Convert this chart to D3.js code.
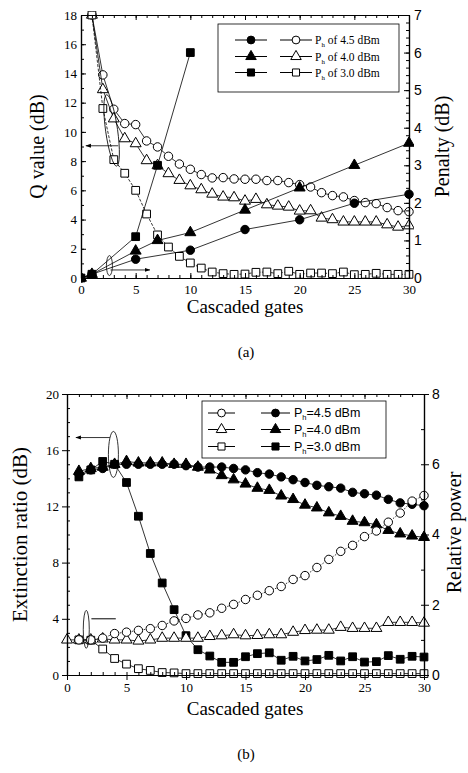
<!DOCTYPE html>
<html lang="en">
<head>
<meta charset="UTF-8">
<title>Q value, penalty and extinction ratio vs cascaded gates</title>
<script src="https://d3js.org/d3.v7.min.js"></script>
<style>
  body { margin: 0; background: #fff; }
  svg { display: block; }
  .tick text { font-family: 'Liberation Serif', serif; font-size: 13px; fill: #000; }
  .sans .tick text { font-family: 'Liberation Sans', Arial, sans-serif; font-size: 14px; }
  .title { font-family: 'Liberation Serif', serif; fill: #000; }
</style>
</head>
<body>
<div id="chart"></div>
<script>
// ---------- panel (a) data ----------
const qGates = [1,2,3,4,5,6,7,8,9,10,11,12,13,14,15,16,17,18,19,20,21,22,23,24,25,26,27,28,29,30];
const q45 = [18, 13.9, 11.55, 10.57, 10.5, 9.38, 8.97, 8.33, 7.8, 7.44, 7.08, 6.85, 6.87, 6.78, 6.76,
             6.76, 6.67, 6.67, 6.53, 6.39, 6.23, 5.84, 5.64, 5.55, 5.3, 5.16, 5.09, 4.82, 4.61, 4.54];
const q40 = [18, 12.9, 10.9, 9.54, 9.2, 8.04, 7.7, 7.15, 6.69, 6.32, 6.05, 5.75, 5.55, 5.5, 5.27,
             5.39, 5.02, 4.93, 4.86, 4.59, 4.61, 4.11, 4.0, 3.84, 3.84, 3.84, 3.84, 3.65, 3.49, 3.58];
const q30 = [18, 11.6, 8.1, 7.17, 6.0, 4.38, 2.95, 2.12, 1.48, 1.03, 0.68, 0.41, 0.3, 0.25, 0.27,
             0.39, 0.41, 0.3, 0.46, 0.25, 0.34, 0.34, 0.3, 0.41, 0.23, 0.25, 0.32, 0.25, 0.25, 0.25];

const pen45Gates = [0, 1, 5, 10, 15, 20, 25, 30];
const pen45 = [0, 0.1, 0.5, 0.74, 1.29, 1.55, 1.99, 2.23];
const pen40Gates = [0, 1, 5, 7, 10, 15, 20, 25, 30];
const pen40 = [0, 0.1, 0.72, 1.0, 1.21, 1.81, 2.4, 3.0, 3.59];
const pen30Gates = [0, 1, 5, 7, 10];
const pen30 = [0, 0.1, 1.1, 3.0, 6.0];

// ---------- panel (b) data ----------
const erGates = [1,2,3,4,5,6,7,8,9,10,11,12,13,14,15,16,17,18,19,20,21,22,23,24,25,26,27,28,29,30];
const er45 = [14.3, 14.6, 14.7, 15.0, 15.0, 15.0, 15.0, 15.0, 15.0, 14.9, 14.8, 14.8, 14.8, 14.7, 14.6,
              14.4, 14.3, 14.1, 13.9, 13.7, 13.5, 13.4, 13.3, 13.0, 12.9, 12.8, 12.5, 12.25, 12.15, 12.05];
const er40 = [14.5, 14.7, 14.8, 15.0, 15.2, 15.1, 15.1, 15.1, 15.0, 15.0, 14.8, 14.6, 14.2, 13.9, 13.6,
              13.3, 13.15, 12.75, 12.5, 12.1, 11.9, 11.55, 11.3, 10.95, 10.85, 10.7, 10.3, 10.05, 9.9, 9.8];
const er30 = [14.1, 14.6, 15.2, 15.0, 13.7, 11.3, 8.65, 6.55, 4.65, 2.8, 1.8, 1.35, 0.9, 0.9, 1.3,
              1.52, 1.58, 1.05, 1.33, 1.0, 1.1, 1.4, 1.0, 1.3, 0.92, 0.95, 1.38, 1.12, 1.33, 1.28];

const rp45Gates = erGates;
const rp45 = [1.0, 1.0, 1.05, 1.18, 1.22, 1.27, 1.32, 1.41, 1.54, 1.61, 1.71, 1.77, 1.9, 2.01, 2.15,
              2.27, 2.4, 2.52, 2.72, 2.83, 3.06, 3.29, 3.52, 3.69, 3.94, 4.1, 4.35, 4.61, 4.95, 5.11];
const rp40Gates = [0,1,2,3,4,5,6,7,8,9,10,11,12,13,14,15,16,17,18,19,20,21,22,23,24,25,26,27,28,29,30];
const rp40 = [1.0, 1.0, 1.0, 1.03, 1.0, 1.0, 0.97, 1.0, 1.05, 1.05, 1.05, 1.05, 1.1, 1.12, 1.15, 1.12,
              1.13, 1.15, 1.15, 1.22, 1.27, 1.28, 1.28, 1.36, 1.33, 1.33, 1.33, 1.5, 1.5, 1.5, 1.48];
const rp30Gates = erGates;
const rp30 = [1.0, 0.99, 0.74, 0.47, 0.31, 0.18, 0.13, 0.07, 0.06, 0.04, 0.04, 0.04, 0.04, 0.04, 0.04,
              0.04, 0.04, 0.04, 0.04, 0.04, 0.04, 0.04, 0.04, 0.04, 0.04, 0.04, 0.04, 0.04, 0.04, 0.04];

const W = 468, H = 773;
const svg = d3.select("#chart").append("svg").attr("width", W).attr("height", H);

const zip = (xs, ys) => xs.map((x, i) => [x, ys[i]]);

function drawAxes(g, x, yL, yR, box, opt) {
  const ax = (axis, transform, cls) => {
    const a = g.append("g").attr("transform", transform).call(axis);
    if (cls) a.attr("class", cls);
    a.select(".domain").attr("stroke", "#000").attr("stroke-width", 1.2);
    a.selectAll(".tick line").attr("stroke", "#000");
    return a;
  };
  const majIn = opt.majorOut ? 5 : -5;
  const fmt = d3.format("d");
  // bottom
  ax(d3.axisBottom(x).tickValues(opt.xMinor).tickSize(-3).tickSizeOuter(0).tickFormat(""), `translate(0,${box.b})`);
  ax(d3.axisBottom(x).tickValues(opt.xMajor).tickSize(majIn).tickSizeOuter(0).tickFormat(fmt).tickPadding(opt.majorOut ? 3 : 7), `translate(0,${box.b})`);
  // top
  ax(d3.axisTop(x).tickValues(opt.xMinor).tickSize(-3).tickSizeOuter(0).tickFormat(""), `translate(0,${box.t})`);
  ax(d3.axisTop(x).tickValues(opt.xMajor).tickSize(-5).tickSizeOuter(0).tickFormat(""), `translate(0,${box.t})`);
  // left
  ax(d3.axisLeft(yL).tickValues(opt.lMinor).tickSize(-3).tickSizeOuter(0).tickFormat(""), `translate(${box.l},0)`);
  ax(d3.axisLeft(yL).tickValues(opt.lMajor).tickSize(majIn).tickSizeOuter(0).tickFormat(fmt).tickPadding(opt.majorOut ? 3 : 4), `translate(${box.l},0)`);
  // right
  ax(d3.axisRight(yR).tickValues(opt.rMinor).tickSize(-3).tickSizeOuter(0).tickFormat(""), `translate(${box.r},0)`);
  ax(d3.axisRight(yR).tickValues(opt.rMajor).tickSize(majIn).tickSizeOuter(0).tickFormat(fmt).tickPadding(opt.majorOut ? 3 : 5), `translate(${box.r},0)`, "sans");
}

function drawSeries(g, pts, x, y, shape, filled, dash) {
  g.append("path")
    .datum(pts)
    .attr("fill", "none")
    .attr("stroke", "#000")
    .attr("stroke-width", 0.8)
    .attr("stroke-dasharray", dash || null)
    .attr("d", d3.line().x(d => x(d[0])).y(d => y(d[1])));
  const sym = d3.symbol().type(shape).size(shape === d3.symbolSquare ? 60 : shape === d3.symbolTriangle ? 52 : 56);
  g.selectAll(null).data(pts).enter().append("path")
    .attr("transform", d => `translate(${x(d[0])},${y(d[1])})`)
    .attr("d", sym)
    .attr("fill", filled ? "#000" : "#fff")
    .attr("stroke", "#000")
    .attr("stroke-width", 1);
}

function legendLabel(g, xPos, yPos, txt, font, size) {
  const t = g.append("text").attr("x", xPos).attr("y", yPos)
    .style("font-family", font).style("font-size", size + "px").attr("fill", "#000");
  t.append("tspan").text("P");
  t.append("tspan").text("h").style("font-size", (size * 0.6) + "px").attr("dy", 3);
  t.append("tspan").text(txt).attr("dy", -3);
}

function legendSample(g, x0, x1, yPos, shape, filled) {
  g.append("line").attr("x1", x0).attr("x2", x1).attr("y1", yPos).attr("y2", yPos)
    .attr("stroke", "#000").attr("stroke-width", 1);
  g.append("path").attr("transform", `translate(${(x0 + x1) / 2},${yPos})`)
    .attr("d", d3.symbol().type(shape).size(shape === d3.symbolSquare ? 50 : 48))
    .attr("fill", filled ? "#000" : "#fff").attr("stroke", "#000");
}

svg.append("defs").append("marker")
  .attr("id", "arrow").attr("viewBox", "0 0 10 10").attr("refX", 9).attr("refY", 5)
  .attr("markerWidth", 7).attr("markerHeight", 7).attr("orient", "auto-start-reverse")
  .append("path").attr("d", "M0,1.5 L10,5 L0,8.5 Z").attr("fill", "#000");

// ================= panel (a) =================
{
  const box = {l: 81, r: 409, t: 15, b: 278};
  const x = d3.scaleLinear().domain([0, 30]).range([box.l, box.r]);
  const yQ = d3.scaleLinear().domain([0, 18]).range([box.b, box.t]);
  const yP = d3.scaleLinear().domain([0, 7]).range([box.b, box.t]);
  const g = svg.append("g");

  svg.append("clipPath").attr("id", "clipA").append("rect")
    .attr("x", box.l).attr("y", box.t - 4).attr("width", box.r - box.l + 5).attr("height", box.b - box.t + 9);
  const plot = g.append("g").attr("clip-path", "url(#clipA)");

  drawSeries(plot, zip(qGates, q45), x, yQ, d3.symbolCircle, false);
  drawSeries(plot, zip(qGates, q40), x, yQ, d3.symbolTriangle, false);
  drawSeries(plot, zip(qGates, q30), x, yQ, d3.symbolSquare, false, "3,1.5");
  drawSeries(plot, zip(pen45Gates, pen45), x, yP, d3.symbolCircle, true);
  drawSeries(plot, zip(pen40Gates, pen40), x, yP, d3.symbolTriangle, true);
  drawSeries(plot, zip(pen30Gates, pen30), x, yP, d3.symbolSquare, true);

  drawAxes(g, x, yQ, yP, box, {
    xMajor: [0, 5, 10, 15, 20, 25, 30], xMinor: d3.range(0, 31, 1),
    lMajor: [0, 2, 4, 6, 8, 10, 12, 14, 16, 18], lMinor: d3.range(0, 19, 1),
    rMajor: [0, 1, 2, 3, 4, 5, 6, 7], rMinor: d3.range(0, 7.01, 0.2)
  });

  // annotations: ellipses and arrows
  g.append("ellipse").attr("cx", x(2.8)).attr("cy", yQ(10.1)).attr("rx", 6).attr("ry", 36)
    .attr("transform", `rotate(-8,${x(2.8)},${yQ(10.1)})`)
    .attr("fill", "none").attr("stroke", "#000").attr("stroke-width", 0.8);
  g.append("line").attr("x1", x(3.4)).attr("x2", x(0.45)).attr("y1", yQ(9.05)).attr("y2", yQ(9.05))
    .attr("stroke", "#000").attr("stroke-width", 0.8).attr("marker-end", "url(#arrow)");
  g.append("ellipse").attr("cx", x(2.6)).attr("cy", yQ(0.85)).attr("rx", 3).attr("ry", 10)
    .attr("fill", "none").attr("stroke", "#000").attr("stroke-width", 0.8);
  g.append("line").attr("x1", x(2.7)).attr("x2", x(6.3)).attr("y1", yQ(0.55)).attr("y2", yQ(0.55))
    .attr("stroke", "#000").attr("stroke-width", 0.8).attr("marker-end", "url(#arrow)");

  // legend
  const lg = g.append("g");
  lg.append("rect").attr("x", 218).attr("y", 24).attr("width", 181).attr("height", 68)
    .attr("fill", "#fff").attr("stroke", "#000").attr("stroke-width", 0.8);
  const rowsA = [[40, d3.symbolCircle, " of 4.5 dBm"], [56.5, d3.symbolTriangle, " of 4.0 dBm"], [72.5, d3.symbolSquare, " of 3.0 dBm"]];
  rowsA.forEach(([yy, shp, txt]) => {
    legendSample(lg, 235, 267, yy, shp, true);
    legendSample(lg, 280, 312, yy, shp, false);
    legendLabel(lg, 315, yy + 4, txt, "'Liberation Serif', serif", 11.5);
  });

  // titles
  g.append("text").attr("class", "title").attr("transform", `translate(44,${(box.t + box.b) / 2}) rotate(-90)`)
    .attr("text-anchor", "middle").style("font-size", "20px").text("Q value (dB)");
  g.append("text").attr("class", "title").attr("transform", `translate(449,${(box.t + box.b) / 2}) rotate(-90)`)
    .attr("text-anchor", "middle").style("font-size", "20px").text("Penalty (dB)");
  g.append("text").attr("class", "title").attr("x", (box.l + box.r) / 2).attr("y", 313)
    .attr("text-anchor", "middle").style("font-size", "19px").text("Cascaded gates");
  g.append("text").attr("class", "title").attr("x", 246).attr("y", 357)
    .attr("text-anchor", "middle").style("font-size", "15px").text("(a)");
}

// ================= panel (b) =================
{
  const box = {l: 67, r: 424, t: 394, b: 675};
  const x = d3.scaleLinear().domain([0, 30]).range([box.l, box.r]);
  const yE = d3.scaleLinear().domain([0, 20]).range([box.b, box.t]);
  const yR = d3.scaleLinear().domain([0, 8]).range([box.b, box.t]);
  const g = svg.append("g");

  drawSeries(g, zip(erGates, er30), x, yE, d3.symbolSquare, true);
  drawSeries(g, zip(erGates, er40), x, yE, d3.symbolTriangle, true);
  drawSeries(g, zip(erGates, er45), x, yE, d3.symbolCircle, true);
  drawSeries(g, zip(rp30Gates, rp30), x, yR, d3.symbolSquare, false);
  drawSeries(g, zip(rp40Gates, rp40), x, yR, d3.symbolTriangle, false);
  drawSeries(g, zip(rp45Gates, rp45), x, yR, d3.symbolCircle, false, "1.5,1.5");

  drawAxes(g, x, yE, yR, box, {
    majorOut: true,
    xMajor: [0, 5, 10, 15, 20, 25, 30], xMinor: d3.range(0, 31, 1),
    lMajor: [0, 4, 8, 12, 16, 20], lMinor: d3.range(0, 21, 1),
    rMajor: [0, 2, 4, 6, 8], rMinor: d3.range(0, 8.01, 1)
  });

  // annotations
  g.append("ellipse").attr("cx", x(3.9)).attr("cy", yE(15.7)).attr("rx", 5).attr("ry", 23)
    .attr("fill", "none").attr("stroke", "#000").attr("stroke-width", 0.8);
  g.append("line").attr("x1", x(3.6)).attr("x2", x(0.75)).attr("y1", yE(16.9)).attr("y2", yE(16.9))
    .attr("stroke", "#000").attr("stroke-width", 0.8).attr("marker-end", "url(#arrow)");
  g.append("ellipse").attr("cx", x(1.62)).attr("cy", yE(3.25)).attr("rx", 3).attr("ry", 19)
    .attr("fill", "none").attr("stroke", "#000").attr("stroke-width", 0.8);
  g.append("line").attr("x1", x(2.05)).attr("x2", x(4.1)).attr("y1", yE(4.0)).attr("y2", yE(4.0))
    .attr("stroke", "#000").attr("stroke-width", 1);

  // legend
  const lg = g.append("g");
  lg.append("rect").attr("x", 202).attr("y", 401).attr("width", 184).attr("height", 57)
    .attr("fill", "#fff").attr("stroke", "#000").attr("stroke-width", 0.8);
  const rowsB = [[413, d3.symbolCircle, "=4.5 dBm"], [429.5, d3.symbolTriangle, "=4.0 dBm"], [446.5, d3.symbolSquare, "=3.0 dBm"]];
  rowsB.forEach(([yy, shp, txt]) => {
    legendSample(lg, 208, 235, yy, shp, false);
    legendSample(lg, 261, 290, yy, shp, true);
    legendLabel(lg, 294, yy + 4, txt, "'Liberation Sans', Arial, sans-serif", 12.5);
  });

  // titles
  g.append("text").attr("class", "title").attr("transform", `translate(27,${(box.t + box.b) / 2}) rotate(-90)`)
    .attr("text-anchor", "middle").style("font-size", "21px").text("Extinction ratio  (dB)");
  g.append("text").attr("class", "title").attr("transform", `translate(461,${(box.t + box.b) / 2 - 2}) rotate(-90)`)
    .attr("text-anchor", "middle").style("font-size", "20px").text("Relative power");
  g.append("text").attr("class", "title").attr("x", 245).attr("y", 715)
    .attr("text-anchor", "middle").style("font-size", "19px").text("Cascaded gates");
  g.append("text").attr("class", "title").attr("x", 246).attr("y", 759)
    .attr("text-anchor", "middle").style("font-size", "15px").text("(b)");
}
</script>
</body>
</html>
